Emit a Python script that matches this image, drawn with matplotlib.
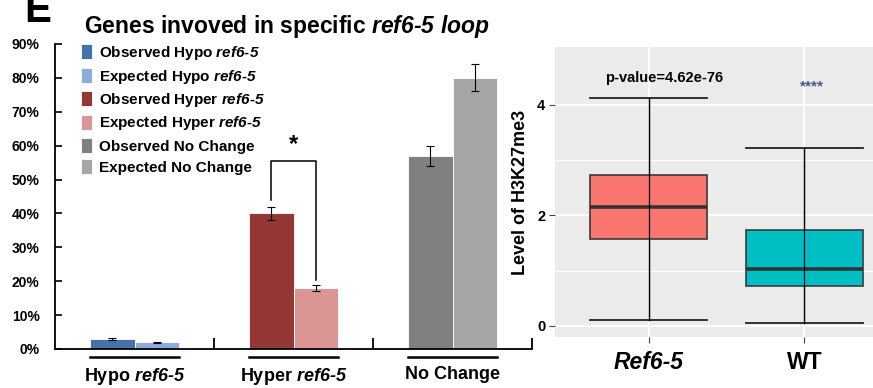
import matplotlib
matplotlib.use("Agg")
import matplotlib.pyplot as plt
import matplotlib.transforms as mtransforms
import numpy as np

plt.rcParams['font.family'] = ['Liberation Sans', 'DejaVu Sans']
plt.rcParams['font.weight'] = 'bold'
# math text is only used for the italic gene names
plt.rcParams['mathtext.fontset'] = 'custom'
plt.rcParams['mathtext.it'] = 'Liberation Sans:italic:bold'
plt.rcParams['mathtext.rm'] = 'Liberation Sans:italic:bold'
plt.rcParams['mathtext.bf'] = 'Liberation Sans:italic:bold'

GENE = '$ref6\\text{-}5$'

# ---- data: left bar chart ----
groups = ['Hypo ' + GENE, 'Hyper ' + GENE, 'No Change']
observed = [0.03, 0.40, 0.57]
expected = [0.02, 0.18, 0.80]
observed_err = [0.003, 0.02, 0.03]
expected_err = [0.002, 0.01, 0.04]
obs_labels = ['Observed Hypo ' + GENE, 'Observed Hyper ' + GENE, 'Observed No Change']
exp_labels = ['Expected Hypo ' + GENE, 'Expected Hyper ' + GENE, 'Expected No Change']
obs_colors = ['#4472AA', '#953735', '#808080']
exp_colors = ['#8FAADC', '#D99694', '#A6A6A6']
yticks_left = [0, 0.1, 0.2, 0.3, 0.4, 0.5, 0.6, 0.7, 0.8, 0.9]

# ---- data: right box plot ----
box_names = ['Ref6-5', 'WT']
box_whislo = [0.10, 0.05]
box_q1 = [1.58, 0.72]
box_med = [2.15, 1.04]
box_q3 = [2.73, 1.74]
box_whishi = [4.12, 3.22]
box_colors = ['#F8766D', '#00BFC4']

fig = plt.figure(figsize=(8.73, 3.88), dpi=100)

# ================= left panel =================
ax = fig.add_axes([55 / 873, 1 - 349 / 388, 477 / 873, 305 / 388])
x = np.arange(len(groups))
w = 0.283
handles = []
for i in range(len(groups)):
    b1 = ax.bar(x[i] - w / 2, observed[i], w, color=obs_colors[i], edgecolor='white', linewidth=0.6,
                yerr=observed_err[i], capsize=3, error_kw=dict(elinewidth=0.8, capthick=0.8, ecolor='black'),
                label=obs_labels[i])
    b2 = ax.bar(x[i] + w / 2, expected[i], w, color=exp_colors[i], edgecolor='white', linewidth=0.6,
                yerr=expected_err[i], capsize=3, error_kw=dict(elinewidth=0.8, capthick=0.8, ecolor='black'),
                label=exp_labels[i])
    handles += [b1, b2]

ax.set_xlim(-0.5, 2.5)
ax.set_ylim(0, 0.9)
ax.spines['top'].set_visible(False)
ax.spines['right'].set_visible(False)
ax.spines['left'].set_linewidth(1.3)
ax.spines['bottom'].set_linewidth(1.3)

ax.set_yticks(yticks_left)
ax.set_yticklabels([f'{int(round(v * 100))}%' for v in yticks_left], fontsize=10, fontweight='bold')
ax.tick_params(axis='y', direction='in', length=5, width=1.2, pad=11)

ax.set_xticks(x)
ax.set_xticklabels(groups, fontsize=13, fontweight='bold')
ax.tick_params(axis='x', which='major', length=0, pad=12)
ax.set_xticks([0.5, 1.5, 2.5], minor=True)
ax.tick_params(axis='x', which='minor', direction='in', length=8, width=1.3)

# group underlines
trans = mtransforms.blended_transform_factory(ax.transData, ax.transAxes)
for i in x:
    ax.plot([i - 0.28, i + 0.28], [-0.026, -0.026], color='black', lw=1.8, transform=trans, clip_on=False)

# significance bracket
ax.plot([1 - w / 2, 1 - w / 2, 1 + w / 2, 1 + w / 2], [0.44, 0.555, 0.555, 0.205], color='black', lw=1.1)
ax.text(1, 0.57, '*', ha='center', va='bottom', fontsize=17, fontweight='bold')

ax.legend(handles=handles, loc='upper left', bbox_to_anchor=(0.0545, 1.0), frameon=False,
          fontsize=11, handlelength=0.75, handleheight=1.1, handletextpad=0.4,
          labelspacing=0.36, borderpad=0, borderaxespad=0)

fig.text(287 / 873, 1 - 33 / 388, 'Genes invoved in specific $ref6\\text{-}5\\ loop$',
         ha='center', va='baseline', fontsize=16.5, fontweight='bold')
fig.text(24 / 873, 1 - 22 / 388, 'E', ha='left', va='baseline', fontsize=29, fontweight='bold')

# ================= right panel =================
ax2 = fig.add_axes([555 / 873, 1 - 337 / 388, 343 / 873, 290 / 388])
ax2.set_facecolor('#EBEBEB')
stats = []
for i in range(len(box_names)):
    stats.append(dict(label=box_names[i], whislo=box_whislo[i], q1=box_q1[i], med=box_med[i],
                      q3=box_q3[i], whishi=box_whishi[i], fliers=[]))
bp = ax2.bxp(stats, positions=[1, 2], widths=0.75, capwidths=0.75, patch_artist=True,
             boxprops=dict(edgecolor='#3A3A3A', linewidth=1.2),
             medianprops=dict(color='#333333', linewidth=2.6),
             whiskerprops=dict(color='black', linewidth=0.9),
             capprops=dict(color='#222222', linewidth=1.3))
for patch, c in zip(bp['boxes'], box_colors):
    patch.set_facecolor(c)
# whiskers drawn through the box like the reference
for i in range(len(box_names)):
    ax2.plot([i + 1, i + 1], [box_whislo[i], box_whishi[i]], color='black', lw=0.9, zorder=4)

ax2.set_xlim(0.4, 2.6)
ax2.set_ylim(-0.2, 5.05)
for s in ax2.spines.values():
    s.set_visible(False)
ax2.set_yticks([0, 2, 4])
ax2.set_yticks([1, 3], minor=True)
ax2.set_yticklabels(['0', '2', '4'], fontsize=10.5, fontweight='bold')
ax2.tick_params(axis='y', which='major', length=4, color='#444444', pad=3)
ax2.tick_params(axis='y', which='minor', length=0)
ax2.set_xticks([1, 2])
ax2.set_xticklabels(box_names, fontsize=16.5, fontweight='bold')
ax2.get_xticklabels()[0].set_fontstyle('italic')
ax2.tick_params(axis='x', length=4, color='#444444', pad=6)
ax2.grid(True, which='major', color='white', lw=1.3)
ax2.grid(True, which='minor', axis='y', color='white', lw=0.7)
ax2.set_axisbelow(True)
ax2.set_ylabel('Level of H3K27me3', fontsize=13, fontweight='bold', labelpad=6)

ax2.text(1.1, 4.48, 'p-value=4.62e-76', ha='center', va='center', fontsize=10.5, fontweight='bold')
ax2.text(2.05, 4.33, '****', ha='center', va='center', fontsize=11, fontweight='bold', color='#4A5A80')

fig.savefig('out.png', dpi=100, facecolor='white')
